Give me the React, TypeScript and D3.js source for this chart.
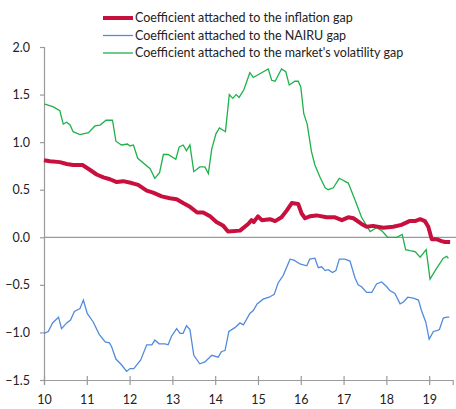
import { useEffect, useRef } from 'react';
import * as d3 from 'd3';

// [year, coefficient]
const inflationGap: [number, number][] = [
    [10.0, 0.81], [10.14, 0.80], [10.37, 0.79], [10.53, 0.77], [10.68, 0.76], [10.9, 0.76],
    [11.07, 0.71], [11.23, 0.66], [11.39, 0.63], [11.54, 0.61], [11.7, 0.58], [11.85, 0.59],
    [12.05, 0.57], [12.2, 0.55], [12.4, 0.49], [12.55, 0.47], [12.75, 0.43], [12.94, 0.41],
    [13.1, 0.40], [13.25, 0.36], [13.41, 0.32], [13.58, 0.26], [13.72, 0.26], [13.88, 0.22],
    [14.03, 0.16], [14.19, 0.12], [14.3, 0.06], [14.58, 0.07], [14.77, 0.14], [14.85, 0.18],
    [14.9, 0.16], [15.0, 0.22], [15.09, 0.18], [15.28, 0.19], [15.4, 0.17], [15.55, 0.21],
    [15.67, 0.28], [15.79, 0.36], [15.94, 0.35], [16.02, 0.25], [16.1, 0.20], [16.21, 0.22],
    [16.37, 0.23], [16.6, 0.21], [16.8, 0.21], [16.96, 0.18], [17.11, 0.21], [17.23, 0.20],
    [17.42, 0.14], [17.54, 0.11], [17.69, 0.12], [17.93, 0.10], [18.16, 0.11], [18.35, 0.13],
    [18.54, 0.17], [18.67, 0.17], [18.79, 0.19], [18.9, 0.17], [18.98, 0.11], [19.06, -0.02],
    [19.17, -0.02], [19.29, -0.04], [19.37, -0.05], [19.49, -0.05]
];

const nairuGap: [number, number][] = [
    [10.0, -1.01], [10.1, -0.99], [10.2, -0.90], [10.34, -0.84], [10.41, -0.96], [10.53, -0.90],
    [10.62, -0.87], [10.71, -0.78], [10.84, -0.75], [10.92, -0.66], [11.01, -0.80], [11.15, -0.89],
    [11.29, -1.02], [11.43, -1.10], [11.53, -1.11], [11.58, -1.15], [11.68, -1.28], [11.81, -1.34],
    [11.93, -1.41], [12.01, -1.38], [12.1, -1.38], [12.26, -1.29], [12.4, -1.13], [12.52, -1.13],
    [12.59, -1.08], [12.69, -1.12], [12.83, -1.12], [12.9, -1.13], [12.98, -1.04], [13.1, -0.96],
    [13.18, -1.01], [13.25, -1.01], [13.33, -0.93], [13.41, -0.97], [13.5, -1.24], [13.64, -1.33],
    [13.76, -1.31], [13.92, -1.24], [14.07, -1.26], [14.15, -1.20], [14.23, -1.19], [14.32, -0.99],
    [14.46, -0.95], [14.58, -0.90], [14.66, -0.92], [14.81, -0.80], [14.89, -0.77], [14.98, -0.70],
    [15.12, -0.65], [15.26, -0.63], [15.38, -0.60], [15.47, -0.48], [15.59, -0.40], [15.75, -0.23],
    [15.84, -0.24], [15.98, -0.28], [16.14, -0.30], [16.21, -0.23], [16.33, -0.22], [16.41, -0.32],
    [16.49, -0.31], [16.57, -0.35], [16.64, -0.34], [16.74, -0.37], [16.82, -0.35], [16.9, -0.23],
    [17.03, -0.23], [17.15, -0.25], [17.27, -0.43], [17.34, -0.50], [17.42, -0.52], [17.54, -0.58],
    [17.66, -0.58], [17.77, -0.49], [17.89, -0.47], [18.01, -0.52], [18.08, -0.56], [18.2, -0.59],
    [18.32, -0.70], [18.4, -0.68], [18.5, -0.63], [18.63, -0.64], [18.75, -0.66], [18.82, -0.77],
    [18.92, -0.89], [19.0, -1.07], [19.1, -0.99], [19.18, -0.98], [19.24, -0.97], [19.33, -0.85],
    [19.41, -0.84], [19.47, -0.84]
];

const volatilityGap: [number, number][] = [
    [10.02, 1.40], [10.22, 1.37], [10.37, 1.33], [10.45, 1.19], [10.53, 1.21], [10.61, 1.18],
    [10.68, 1.11], [10.84, 1.08], [11.04, 1.10], [11.19, 1.17], [11.31, 1.18], [11.45, 1.23],
    [11.6, 1.23], [11.68, 1.01], [11.81, 0.97], [11.95, 0.98], [12.01, 0.96], [12.09, 0.97],
    [12.19, 0.83], [12.48, 0.72], [12.59, 0.62], [12.7, 0.68], [12.79, 0.87], [12.9, 0.87],
    [13.08, 0.82], [13.16, 0.95], [13.25, 0.97], [13.33, 0.91], [13.41, 0.97], [13.5, 0.69],
    [13.64, 0.74], [13.76, 0.74], [13.84, 0.67], [13.92, 0.93], [14.02, 1.09], [14.1, 1.15],
    [14.24, 1.11], [14.33, 1.50], [14.41, 1.46], [14.49, 1.50], [14.56, 1.47], [14.67, 1.55],
    [14.81, 1.73], [14.89, 1.68], [15.24, 1.77], [15.32, 1.65], [15.4, 1.64], [15.55, 1.77],
    [15.65, 1.74], [15.73, 1.60], [15.86, 1.64], [15.94, 1.64], [16.0, 1.58], [16.07, 1.30],
    [16.15, 1.19], [16.25, 0.90], [16.33, 0.76], [16.45, 0.63], [16.57, 0.52], [16.64, 0.50],
    [16.76, 0.52], [16.9, 0.62], [17.11, 0.57], [17.27, 0.39], [17.42, 0.21], [17.62, 0.06],
    [17.77, 0.10], [17.89, 0.07], [18.03, 0.00], [18.24, 0.00], [18.37, 0.03], [18.45, -0.13],
    [18.55, -0.14], [18.67, -0.15], [18.79, -0.21], [18.93, -0.13], [19.02, -0.44], [19.17, -0.33],
    [19.33, -0.22], [19.41, -0.20], [19.45, -0.22]
];

const xTicks = [10, 11, 12, 13, 14, 15, 16, 17, 18, 19];
const yTicks = [-1.5, -1.0, -0.5, 0.0, 0.5, 1.0, 1.5, 2.0];

const seriesNames = [
    'Coefficient attached to the inflation gap',
    'Coefficient attached to the NAIRU gap',
    "Coefficient attached to the market's volatility gap"
];

const App = () => {
    const ref = useRef<SVGSVGElement>(null);

    useEffect(() => {
        const svg = d3.select(ref.current);
        svg.selectAll('*').remove();

        const font = 'Lato, "Open Sans", sans-serif';
        const axisColor = '#9a9a9a';
        const textColor = '#222';

        const x = d3.scaleLinear().domain([10, 19.55]).range([44, 452.7]);
        const y = d3.scaleLinear().domain([-1.5, 2.0]).range([380, 47]);

        // zero line
        svg.append('line')
            .attr('x1', 44).attr('x2', 456)
            .attr('y1', y(0)).attr('y2', y(0))
            .attr('stroke', axisColor).attr('stroke-width', 1.2);

        // y axis
        const yAxis = svg.append('g')
            .attr('transform', 'translate(44, 0)')
            .call(d3.axisLeft(y).tickValues(yTicks).tickSize(4).tickPadding(10)
                .tickFormat(d3.format('.1f')));
        yAxis.select('.domain').attr('stroke', axisColor).attr('stroke-width', 1.2);
        yAxis.selectAll('line').attr('stroke', axisColor).attr('stroke-width', 1.2);
        yAxis.selectAll('text')
            .attr('fill', textColor)
            .style('font-family', font)
            .style('font-size', '12.5px');

        // x axis
        const xAxis = svg.append('g')
            .attr('transform', `translate(0, ${y(-1.5)})`)
            .call(d3.axisBottom(x).tickValues(xTicks).tickSizeOuter(0).tickSize(5).tickPadding(10)
                .tickFormat(d3.format('d')));
        xAxis.select('.domain').attr('stroke', axisColor).attr('stroke-width', 1.2);
        xAxis.selectAll('.tick line')
            .attr('stroke', axisColor).attr('stroke-width', 1.2)
            .attr('y1', -4).attr('y2', 5);
        xAxis.selectAll('text')
            .attr('fill', textColor)
            .style('font-family', font)
            .style('font-size', '12.5px');

        const line = d3.line<[number, number]>()
            .x(d => x(d[0]))
            .y(d => y(d[1]));

        svg.append('path')
            .datum(volatilityGap)
            .attr('d', line)
            .attr('fill', 'none')
            .attr('stroke', '#1fb14b')
            .attr('stroke-width', 1.3);

        svg.append('path')
            .datum(nairuGap)
            .attr('d', line)
            .attr('fill', 'none')
            .attr('stroke', '#528bdb')
            .attr('stroke-width', 1.3);

        svg.append('path')
            .datum(inflationGap)
            .attr('d', line)
            .attr('fill', 'none')
            .attr('stroke', '#c8103e')
            .attr('stroke-width', 4)
            .attr('stroke-linejoin', 'round');

        // legend
        const legendStyles = [
            { color: '#c8103e', width: 4 },
            { color: '#528bdb', width: 1.3 },
            { color: '#1fb14b', width: 1.3 }
        ];
        const legend = svg.append('g');
        seriesNames.forEach((name, i) => {
            const ly = 18 + i * 17.5;
            legend.append('line')
                .attr('x1', 103).attr('x2', 133)
                .attr('y1', ly).attr('y2', ly)
                .attr('stroke', legendStyles[i].color)
                .attr('stroke-width', legendStyles[i].width);
            legend.append('text')
                .attr('x', 135)
                .attr('y', ly)
                .attr('dy', '0.35em')
                .attr('fill', textColor)
                .style('font-family', font)
                .style('font-size', '12.5px')
                .text(name);
        });
    }, []);

    return (
        <svg ref={ref} width={456} height={409}
            style={{ position: 'absolute', left: 0, top: 0, background: '#fff' }} />
    );
};

export default App;
